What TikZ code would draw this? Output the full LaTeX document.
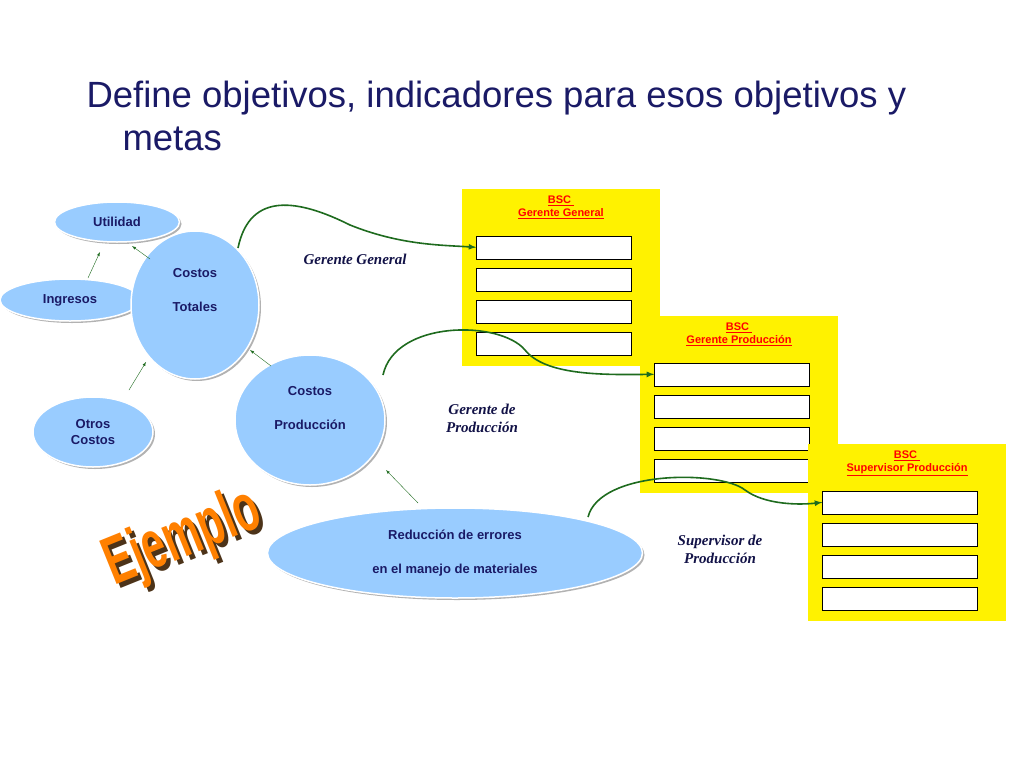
\documentclass[tikz,border=0pt]{standalone}
\usepackage{fontspec}
\setmainfont{Liberation Sans}
\newfontfamily\serifit{Liberation Serif}
\usetikzlibrary{shapes.geometric, positioning, shadows}
\definecolor{bubble}{HTML}{99CCFF}
\definecolor{flow}{HTML}{1E6B1E}
\definecolor{titleblue}{HTML}{1A1A66}
\tikzset{
  bub/.style={ellipse, fill=bubble, draw=white, line width=1.5pt, drop shadow={shadow xshift=2pt, shadow yshift=-2pt, opacity=.6}, font=\bfseries\fontsize{13}{16}\selectfont, text=titleblue, align=center, inner sep=0pt},
  bsc/.style={fill=yellow, minimum width=198pt, minimum height=177pt, inner sep=0pt},
  row/.style={draw, fill=white, minimum width=155pt, minimum height=23pt, inner sep=0pt},
  lbl/.style={font=\serifit\itshape\bfseries\fontsize{15}{18}\selectfont, text=titleblue!70!black, align=center},
  up/.style={-latex, flow, thin},
  link/.style={-latex, flow, line width=1.6pt}
}
\begin{document}
\begin{tikzpicture}[x=1pt, y=-1pt]
  \useasboundingbox (0,0) rectangle (1024,768);
  \fill[white] (0,0) rectangle (1024,768);
  %
  \node[anchor=west, text=titleblue, font=\fontsize{36.5}{43}\selectfont, align=left] (title) at (83,116)
    {Define objetivos, indicadores para esos objetivos y\\\hspace*{36pt}metas};
  %
  \node[bub, minimum width=125pt, minimum height=40pt] (util) at (117,222) {Utilidad};
  \node[bub, minimum width=140pt, minimum height=42pt] (ingr) at (70,300) {Ingresos};
  \node[bub, minimum width=128pt, minimum height=148pt] (tot) at (195,305) {Costos\\[18pt]Totales\\[14pt]\mbox{}};
  \node[bub, minimum width=120pt, minimum height=70pt] (otros) at (93,432) {Otros\\Costos};
  \node[bub, minimum width=150pt, minimum height=130pt] (prod) at (310,420) {Costos\\[18pt]Producción\\[8pt]\mbox{}};
  \node[bub, minimum width=375pt, minimum height=90pt] (red) at (455,553) {Reducción de errores\\[18pt]en el manejo de materiales};
  %
  \coordinate (a1) at (88,278);  \coordinate (a2) at (100,252);
  \coordinate (b1) at (150,259); \coordinate (b2) at (132,246);
  \coordinate (c1) at (129,390); \coordinate (c2) at (146,362);
  \coordinate (d1) at (271,366); \coordinate (d2) at (250,350);
  \coordinate (e1) at (418,503); \coordinate (e2) at (386,470);
  \foreach \s/\t in {a1/a2, b1/b2, c1/c2, d1/d2, e1/e2}
    \draw[up] (\s) -- (\t);
  %
  \foreach \n/\x/\y/\t in {g/561/277/Gerente General, p/739/404/Gerente Producción, s/907/532/Supervisor Producción}{
    \node[bsc] (bsc\n) at (\x,\y) {};
    \node[text=red, font=\bfseries\fontsize{11}{13}\selectfont, align=center, anchor=north] (h\n) at ([yshift=-4pt]bsc\n.north) {\underline{BSC }\\\underline{\t}};
    \foreach \k in {1,...,4}
      \node[row] (r\n\k) at ([xshift=-7pt, yshift=-59pt-32*\k+32pt]bsc\n.north) {};
  }
  %
  \coordinate (gs) at (238,248);
  \coordinate (ps) at (383,375);
  \coordinate (ss) at (588,517);
  \draw[link] (gs) .. controls (250,190) and (300,200) .. (350,225) .. controls (400,245) and (440,245) .. (rg1.west);
  \draw[link] (ps) .. controls (395,320) and (500,320) .. (525,350) .. controls (545,375) and (600,375) .. (rp1.west);
  \draw[link] (ss) .. controls (600,470) and (720,470) .. (745,490) .. controls (765,505) and (800,505) .. (rs1.west);
  %
  \node[lbl] (lg) at (355,259) {Gerente General};
  \node[lbl] (lp) at (482,418) {Gerente de\\Producción};
  \node[lbl] (ls) at (720,549) {Supervisor de\\Producción};
  %
  \node[rotate=22, font=\bfseries\fontsize{52}{60}\selectfont, text=black!60!brown] (ej0) at (187,543) {\scalebox{0.8}[1.3]{Ejemplo}};
  \node[rotate=22, font=\bfseries\fontsize{52}{60}\selectfont, text=orange] (ej) at (183,539) {\scalebox{0.8}[1.3]{Ejemplo}};
\end{tikzpicture}
\end{document}
